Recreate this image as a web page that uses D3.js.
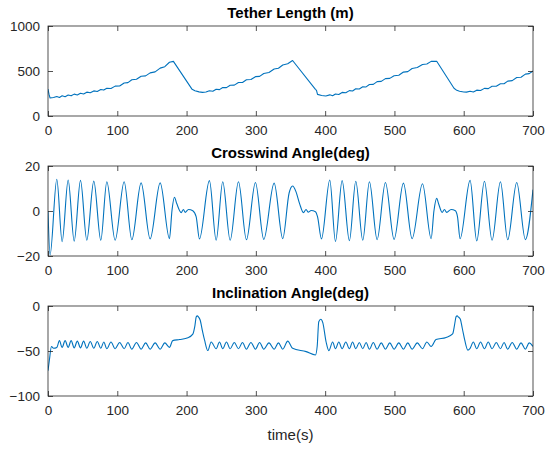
<!DOCTYPE html>
<html>
<head>
<meta charset="utf-8">
<script src="https://cdn.jsdelivr.net/npm/d3@7"></script>
<style>
  html, body { margin: 0; padding: 0; background: #fff; }
  svg { display: block; }
  text { font-family: "Liberation Sans", Arial, Helvetica, sans-serif; }
</style>
</head>
<body>
<svg id="chart" width="550" height="450"></svg>
<script>
// ---------- data ----------
const timeTicks = [0, 100, 200, 300, 400, 500, 600, 700];

const titles = ["Tether Length (m)", "Crosswind Angle(deg)", "Inclination Angle(deg)"];
const xLabel = "time(s)";

const tetherTicks = [0, 500, 1000];
const crosswindTicks = [-20, 0, 20];
const inclinationTicks = [-100, -50, 0];

// [time s, tether length m]
const tetherData = [
  [0,300],[1.5,240],[3,200],[8,205],
  [12.7,217],[16.5,206],[20.4,224],[24.7,214],[29.1,233],[33.4,224],[37.8,243],[42.3,234],
  [46.9,253],[51.4,245],[56,265],[61,258],[66.1,279],[71.1,273],[76.2,295],[80.5,288],
  [84.9,309],[90.9,306],[96.9,332],[103.4,333],[109.9,367],[115.4,371],[121,402],[127.7,408],
  [134.4,442],[140.9,446],[147.4,479],[154.6,490],[161.9,532],[168.6,548],[175.3,597],[181,607],
  [208,296],[212,280],[218,268],[223,263],[228,266],
  [233,281],[237.9,275],[242.7,298],[247.5,293],[252.2,317],[257.6,315],[262.9,342],[268.9,343],
  [274.9,372],[280.7,373],[286.4,402],[292.9,405],[299.4,437],[305.4,440],[311.4,472],[318.9,483],
  [326.4,522],[332.6,531],[338.8,567],[346,580],[353,617],
  [386,296],[387.5,285],[389,240],[395,228],[401,223],
  [406.7,235],[410.8,225],[414.9,245],[419.7,239],[424.5,262],[429.8,258],[435,282],[439.6,278],
  [444.2,303],[449.3,300],[454.3,325],[459.1,323],[463.9,350],[469.5,351],[475,382],[481,385],
  [487,415],[493.3,418],[499.5,447],[506.3,453],[513,488],[519.3,493],[525.5,527],[533,538],
  [540.5,572],[546.8,578],[553,607],[561,608],
  [586,308],[590,285],[594,275],[600,266],[604,265],
  [609.2,275],[613.9,266],[618.8,287],[624.3,283],[629.9,307],[635.4,304],[640.9,330],[647,331],
  [653,359],[658.2,359],[663.5,387],[670,393],[676.5,427],[682.7,431],[689,465],[694.5,471],[700,500]
];

// [time s, crosswind angle deg]
const crosswindData = [
  [0,0],[3,-19.5],[12.7,14.1],[20.4,-13.6],[29.1,13.8],[37.8,-13.4],[46.9,13.6],[56,-13.0],
  [66.1,13.3],[76.2,-13.0],[84.9,13.0],[96.9,-13.0],[109.9,13.0],[121,-12.8],[134.4,12.5],
  [147.4,-12.4],[161.9,12.5],[175.3,-12.3],
  [179,0.4],[182.5,6.1],[185.8,3.3],[192.2,-0.7],[195.5,0.7],[197.9,-0.6],[202.8,0.7],[209,0.1],
  [213.8,-2.5],[218.6,-12.4],
  [233,13.5],[242.7,-13.0],[252.2,13.0],[262.9,-13.0],[274.9,13.0],[286.4,-12.8],[299.4,12.7],
  [311.4,-12.6],[326.4,12.4],[338.8,-12.3],
  [348,8.0],[353,11.1],[358,8.5],[363,3.4],[368.7,-0.7],[372.5,0.7],[375.4,-0.5],[379.8,0.2],
  [386,-0.3],[389,-2.5],[394.7,-12.4],
  [406.7,13.8],[414.9,-13.5],[424.5,13.5],[435,-13.2],[444.2,13.2],[454.3,-13.0],[463.9,13.0],
  [475,-12.7],[487,12.7],[499.5,-12.6],[513,12.4],[525.5,-12.3],[540.5,12.1],[553,-12.3],
  [557,0.0],[561,5.6],[564,3.0],[568.8,-0.6],[572.2,0.7],[575.4,-0.6],[581.8,0.7],[588,0.1],
  [591,-2.5],[594.8,-12.3],
  [609.2,13.6],[618.8,-13.3],[629.9,13.2],[640.9,-13.0],[653,13.0],[663.5,-12.8],[676.5,12.7],
  [689,-12.7],[700,9.5]
];

// [time s, inclination angle deg]
const inclinationData = [
  [0,-72],[2,-60],[5,-45],[8,-47],
  [12.7,-46],[16.5,-38.5],[20.4,-46],[24.7,-38.5],[29.1,-46],[33.4,-38.5],[37.8,-46.5],[42.3,-39],
  [46.9,-46.5],[51.4,-39],[56,-47],[61,-39.5],[66.1,-47],[71.1,-39.5],[76.2,-47],[80.5,-40],
  [84.9,-47.5],[90.9,-40],[96.9,-47.5],[103.4,-40.5],[109.9,-47.5],[115.4,-40.5],[121,-48],
  [127.7,-40.5],[134.4,-48],[140.9,-41],[147.4,-48],[154.6,-41],[161.9,-48],[168.6,-41],
  [175.3,-46],[180,-38.5],[190,-37.3],[202,-35.3],[209,-31.3],[212,-22],[214,-12],[215.5,-11],
  [217,-12],[219.6,-15.6],[223,-28],[226,-38],[230.6,-49.5],
  [235.5,-40],[242.7,-47.5],[247.5,-40],[252.2,-47.5],[257.6,-40],[262.9,-47.5],[268.9,-40.5],
  [274.9,-47.5],[280.7,-40.5],[286.4,-48],[292.9,-40.5],[299.4,-48],[305.4,-40.5],[311.4,-48],
  [318.9,-41],[326.4,-48],[332.6,-41],[338.8,-48],[346,-39],[353,-47],
  [372.6,-50.7],[386,-54.4],[388.5,-45],[390.8,-17.4],[393.7,-14.8],[396.6,-18.5],[401.4,-40],
  [405.3,-49.6],
  [410.8,-40],[414.9,-47.5],[419.7,-40],[424.5,-47.5],[429.8,-40],[435,-47.5],[439.6,-40],
  [444.2,-47.5],[449.3,-40.5],[454.3,-47.5],[459.1,-40.5],[463.9,-48],[469.5,-40.5],[475,-48],
  [481,-41],[487,-48],[493.3,-41],[499.5,-48],[506.3,-41],[513,-48],[519.3,-41],[525.5,-48],
  [533,-41],[540.5,-47.5],[546.8,-40],[553,-45],
  [560,-37.3],[574.6,-35],[584,-31],[587,-20],[589,-11.8],[590.5,-11],[592,-12],[595,-14.5],
  [598,-25],[601.5,-38],[606,-49],
  [609.2,-47],[613.9,-40],[618.8,-47.5],[624.3,-40],[629.9,-47.5],[635.4,-40],[640.9,-47.5],
  [647,-40.5],[653,-47.5],[658.2,-40.5],[663.5,-48],[670,-40.5],[676.5,-48],[682.7,-41],
  [689,-48],[694.5,-41],[700,-45]
];

// ---------- drawing ----------
const svg = d3.select("#chart");
const lineColor = "#0072BD";
const axisColor = "#262626";
const left = 48, right = 533;

const panels = [
  { top: 26,  bottom: 116, domain: [0, 1000],  ticks: tetherTicks,      data: tetherData,      title: titles[0], curve: d3.curveLinear },
  { top: 166, bottom: 256, domain: [-20, 20],  ticks: crosswindTicks,   data: crosswindData,   title: titles[1], curve: d3.curveMonotoneX },
  { top: 306, bottom: 396, domain: [-100, 0],  ticks: inclinationTicks, data: inclinationData, title: titles[2], curve: d3.curveMonotoneX }
];

const x = d3.scaleLinear().domain([0, 700]).range([left, right]);

panels.forEach((p, i) => {
  const y = d3.scaleLinear().domain(p.domain).range([p.bottom, p.top]);
  const g = svg.append("g");

  const clipId = "clip" + i;
  svg.append("clipPath").attr("id", clipId)
    .append("rect").attr("x", left).attr("y", p.top).attr("width", right - left).attr("height", p.bottom - p.top);

  const line = d3.line().x(d => x(d[0])).y(d => y(d[1])).curve(p.curve);
  g.append("path").datum(p.data)
    .attr("clip-path", `url(#${clipId})`)
    .attr("d", line)
    .attr("fill", "none")
    .attr("stroke", lineColor)
    .attr("stroke-width", 1.1)
    .attr("stroke-linejoin", "round");

  const bottomAxis = d3.axisBottom(x).tickValues(timeTicks).tickFormat(d3.format("d"))
    .tickSizeInner(-5).tickSizeOuter(0).tickPadding(9);
  const topAxis = d3.axisTop(x).tickValues(timeTicks).tickFormat("")
    .tickSizeInner(-5).tickSizeOuter(0);
  const leftAxis = d3.axisLeft(y).tickValues(p.ticks).tickFormat(d3.format("d"))
    .tickSizeInner(-5).tickSizeOuter(0).tickPadding(8);
  const rightAxis = d3.axisRight(y).tickValues(p.ticks).tickFormat("")
    .tickSizeInner(-5).tickSizeOuter(0);

  const styleAxis = sel => {
    sel.select(".domain").remove();
    sel.selectAll("line").attr("stroke", axisColor).attr("stroke-width", 0.8);
    sel.selectAll("text").attr("fill", axisColor).style("font-size", "13.5px")
      .style("font-family", '"Liberation Sans", Arial, Helvetica, sans-serif');
  };

  g.append("g").attr("transform", `translate(0,${p.bottom})`).call(bottomAxis).call(styleAxis);
  g.append("g").attr("transform", `translate(0,${p.top})`).call(topAxis).call(styleAxis);
  g.append("g").attr("transform", `translate(${left},0)`).call(leftAxis).call(styleAxis);
  g.append("g").attr("transform", `translate(${right},0)`).call(rightAxis).call(styleAxis);

  g.append("rect")
    .attr("x", left).attr("y", p.top)
    .attr("width", right - left).attr("height", p.bottom - p.top)
    .attr("fill", "none").attr("stroke", axisColor).attr("stroke-width", 0.8);

  g.append("text")
    .attr("x", (left + right) / 2).attr("y", p.top - 8)
    .attr("text-anchor", "middle")
    .attr("font-weight", "bold").attr("font-size", "15px").attr("fill", "#000")
    .text(p.title);
});

svg.append("text")
  .attr("x", (left + right) / 2).attr("y", 440)
  .attr("text-anchor", "middle")
  .attr("font-size", "15px").attr("fill", axisColor)
  .text(xLabel);
</script>
</body>
</html>
